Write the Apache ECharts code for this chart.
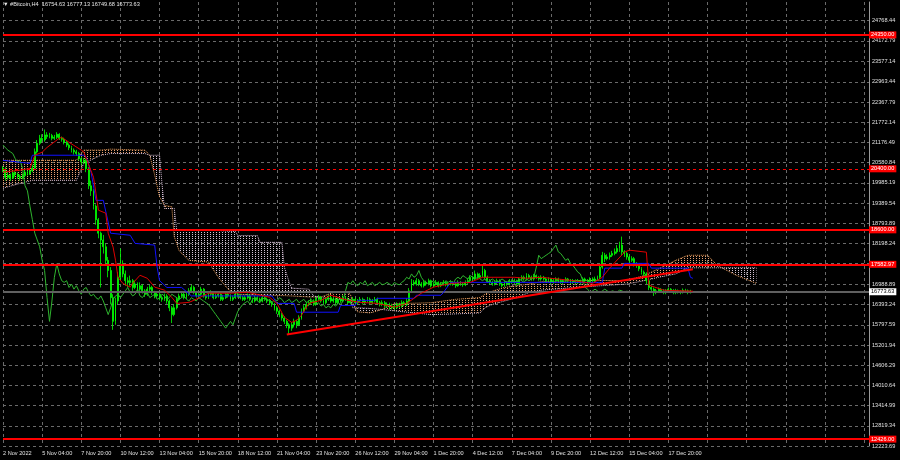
<!DOCTYPE html>
<html><head><meta charset="utf-8">
<script src="https://cdn.jsdelivr.net/npm/echarts@6/dist/echarts.min.js"></script>
<style>html,body{margin:0;padding:0;background:#000}#c{width:900px;height:460px}</style>
</head><body><div id="c"></div>
<script>
const symbolTitle = '#Bitcoin,H4';
const lastBar = [16754.63, 16777.13, 16749.68, 16773.63];
const timeLabels = ['2 Nov 2022','5 Nov 04:00','7 Nov 20:00','10 Nov 12:00','13 Nov 04:00','15 Nov 20:00','18 Nov 12:00','21 Nov 04:00','23 Nov 20:00','26 Nov 12:00','29 Nov 04:00','1 Dec 20:00','4 Dec 12:00','7 Dec 04:00','9 Dec 20:00','12 Dec 12:00','15 Dec 04:00','17 Dec 20:00'];
const priceTicks = [24768.44,24172.79,23577.14,22963.44,22367.79,21772.14,21176.49,20580.84,19985.19,19389.54,18793.89,18198.24,17602.59,16988.89,16393.24,15797.59,15201.94,14606.29,14010.64,13414.99,12819.34,12223.69];
const levelsSolid = [24350, 18600, 17582.97, 12426];
const levelsDashed = [20400];
const currentPrice = 16773.63;
// [open, close, low, high] per H4 bar
const candles = [
[20420,20380,20300,20480],[20380,20150,20050,20450],[20150,20210,20080,20300],[20210,20120,20040,20260],[20120,20280,20100,20350],[20280,20230,20170,20330],[20230,20180,20100,20290],[20180,20120,20050,20230],[20120,20200,20090,20260],[20200,20300,20160,20380],
[20300,20250,20200,20350],[20250,20340,20220,20400],[20340,20420,20300,20520],[20420,20900,20400,21000],[20900,21150,20850,21250],[21150,21300,21100,21400],[21300,21250,21180,21420],[21250,21400,21200,21560],[21400,21350,21280,21480],[21350,21380,21300,21460],
[21380,21300,21240,21430],[21300,21330,21250,21400],[21330,21420,21280,21480],[21420,21300,21250,21450],[21300,21270,21200,21350],[21270,21180,21120,21320],[21180,21100,21040,21230],[21100,21020,20950,21150],[21020,20950,20880,21080],[20950,20900,20820,21000],
[20900,20850,20780,20960],[20850,20700,20640,20900],[20700,20600,20520,20760],[20600,20650,20550,20720],[20650,20400,20300,20700],[20400,19900,19800,20450],[19900,19750,19600,20050],[19750,19300,19200,19800],[19300,18900,18750,19350],[18900,18500,18350,18950],
[18500,18300,16900,18550],[18300,18100,17900,18450],[18100,17700,17600,18200],[17700,17400,17200,17800],[17400,16600,16400,17500],[16600,15900,15650,16700],[15900,16500,15800,16600],[16500,17200,16400,17350],[17200,17600,17100,18050],[17600,17300,17200,17700],
[17300,17100,16950,17400],[17100,17050,16900,17200],[17050,17100,16950,17250],[17100,16900,16800,17150],[16900,17000,16850,17100],[17000,16850,16780,17050],[16850,16950,16800,17050],[16950,16800,16720,17000],[16800,16700,16620,16850],[16700,16850,16650,16920],
[16850,16900,16780,16980],[16900,16750,16680,16950],[16750,16650,16580,16800],[16650,16700,16600,16780],[16700,16600,16520,16750],[16600,16550,16480,16650],[16550,16650,16500,16720],[16650,16500,16420,16700],[16500,16300,16200,16550],[16300,16100,15850,16350],
[16100,16300,16050,16400],[16300,16550,16250,16620],[16550,16650,16500,16720],[16650,16700,16600,16780],[16700,16600,16550,16750],[16600,16700,16560,16760],[16700,16800,16650,16880],[16800,16900,16750,16980],[16900,16750,16700,16950],[16750,16650,16600,16800],
[16650,16700,16600,16780],[16700,16850,16650,16920],[16850,16650,16600,16880],[16650,16600,16540,16700],[16600,16700,16560,16760],[16700,16750,16650,16820],[16750,16600,16550,16780],[16600,16650,16560,16720],[16650,16700,16600,16780],[16700,16550,16500,16730],
[16550,16600,16500,16680],[16600,16700,16560,16760],[16700,16650,16600,16740],[16650,16550,16500,16700],[16550,16600,16500,16660],[16600,16700,16560,16760],[16700,16650,16600,16740],[16650,16600,16550,16700],[16600,16550,16500,16650],[16550,16600,16500,16660],
[16600,16650,16550,16720],[16650,16550,16500,16700],[16550,16500,16440,16600],[16500,16600,16460,16660],[16600,16550,16500,16640],[16550,16500,16440,16600],[16500,16600,16460,16650],[16600,16550,16500,16640],[16550,16500,16440,16600],[16500,16450,16380,16560],
[16450,16400,16330,16500],[16400,16300,16220,16450],[16300,16200,16120,16350],[16200,16100,16020,16250],[16100,16000,15920,16150],[16000,15900,15820,16050],[15900,15800,15700,15950],[15800,15700,15520,15850],[15700,15800,15620,15880],[15800,15900,15720,15980],
[15900,15800,15700,15950],[15800,16000,15760,16080],[16000,16200,15950,16280],[16200,16300,16150,16380],[16300,16400,16250,16480],[16400,16450,16350,16520],[16450,16500,16400,16580],[16500,16400,16350,16550],[16400,16550,16360,16620],[16550,16600,16500,16680],
[16600,16500,16450,16650],[16500,16450,16400,16560],[16450,16550,16400,16620],[16550,16600,16500,16680],[16600,16500,16450,16650],[16500,16550,16450,16620],[16550,16450,16400,16600],[16450,16550,16400,16620],[16550,16500,16450,16600],[16500,16600,16460,16670],
[16600,16550,16500,16650],[16550,16450,16400,16600],[16450,16500,16400,16560],[16500,16550,16460,16620],[16550,16450,16400,16600],[16450,16500,16400,16560],[16500,16550,16460,16620],[16550,16450,16400,16600],[16450,16500,16400,16560],[16500,16550,16460,16620],
[16550,16450,16400,16600],[16450,16500,16400,16560],[16500,16550,16460,16620],[16550,16450,16400,16600],[16450,16400,16340,16500],[16400,16450,16350,16520],[16450,16350,16300,16500],[16350,16400,16300,16460],[16400,16300,16240,16450],[16300,16350,16250,16420],
[16350,16300,16240,16400],[16300,16400,16260,16460],[16400,16350,16300,16450],[16350,16450,16300,16520],[16450,16400,16350,16500],[16400,16500,16350,16580],[16500,16800,16450,16880],[16800,17050,16750,17150],[17050,17000,16950,17120],[17000,17100,16950,17180],
[17100,17000,16940,17150],[17000,16950,16900,17060],[16950,17050,16900,17120],[17050,17000,16950,17100],[17000,17100,16960,17160],[17100,16950,16900,17130],[16950,17000,16900,17060],[17000,17050,16960,17120],[17050,16950,16900,17080],[16950,17000,16910,17060],
[17000,17050,16960,17120],[17050,16980,16930,17090],[16980,17000,16920,17060],[17000,17050,16960,17110],[17050,17000,16950,17090],[17000,16950,16890,17060],[16950,17050,16920,17110],[17050,17000,16950,17090],[17000,16980,16920,17060],[16980,17050,16940,17110],
[17050,17100,17000,17170],[17100,17200,17060,17260],[17200,17150,17100,17250],[17150,17300,17120,17400],[17300,17200,17150,17340],[17200,17250,17150,17320],[17250,17400,17200,17550],[17400,17200,17150,17450],[17200,17100,17050,17250],[17100,17050,16980,17150],
[17050,17000,16950,17100],[17000,17050,16960,17110],[17050,17100,17000,17160],[17100,17000,16950,17140],[17000,16950,16900,17050],[16950,17050,16920,17100],[17050,17000,16950,17090],[17000,17100,16960,17150],[17100,17050,17000,17140],[17050,17100,17000,17160],
[17100,17000,16950,17130],[17000,17150,16980,17200],[17150,17200,17100,17260],[17200,17150,17100,17250],[17150,17250,17100,17320],[17250,17200,17150,17300],[17200,17150,17100,17250],[17150,17250,17100,17300],[17250,17200,17150,17280],[17200,17150,17100,17240],
[17150,17200,17100,17260],[17200,17150,17100,17240],[17150,17100,17040,17200],[17100,17150,17050,17200],[17150,17050,17000,17180],[17050,17100,17000,17150],[17100,17150,17060,17200],[17150,17100,17050,17190],[17100,17050,17000,17150],[17050,17100,17000,17150],
[17100,17150,17050,17200],[17150,17100,17050,17180],[17100,17050,17000,17150],[17050,17100,17000,17150],[17100,17050,17000,17140],[17050,17100,17000,17150],[17100,17050,17000,17130],[17050,17150,17020,17200],[17150,17100,17050,17190],[17100,17050,17000,17150],
[17050,17150,17020,17200],[17150,17100,17050,17200],[17100,17150,17060,17220],[17150,17200,17100,17250],[17200,17500,17150,17600],[17500,17850,17450,17950],[17850,17750,17650,17920],[17750,17800,17700,17880],[17800,17850,17720,17930],[17850,17900,17800,17980],
[17900,17950,17850,18050],[17950,18050,17900,18150],[18050,18150,17950,18250],[18150,17950,17850,18400],[17950,17900,17800,18000],[17900,17800,17720,17950],[17800,17700,17620,17850],[17700,17750,17650,17820],[17750,17600,17520,17800],[17600,17550,17480,17650],
[17550,17450,17380,17600],[17450,17350,17280,17500],[17350,17300,17200,17400],[17300,17100,17000,17350],[17100,16900,16820,17150],[16900,16850,16750,16950],[16850,16750,16650,16900],[16750,16800,16700,16860],[16800,16850,16760,16900],[16850,16800,16740,16880],
[16800,16750,16700,16850],[16750,16800,16700,16850],[16800,16850,16760,16900],[16850,16800,16750,16880],[16800,16750,16700,16850],[16750,16800,16700,16860],[16800,16780,16720,16840],[16780,16760,16700,16820],[16760,16820,16720,16870],[16820,16800,16750,16860],
[16800,16760,16700,16840],[16760,16790,16720,16830],[16754.63,16773.63,16749.68,16777.13]
];
// Ichimoku lines: [bar index, price]
const tenkan = [[0,20300],[7,20360],[11,20410],[13,20800],[16,20890],[18,21030],[23,21300],[24,21330],[27,21180],[29,21090],[32,20950],[33,20900],[37,20150],[38,19680],[39,19180],[42,19090],[43,18500],[45,18090],[46,17700],[47,17200],[49,17020],[52,16910],[53,17020],[56,17260],[59,17170],[62,16910],[66,16820],[69,16610],[71,16430],[76,16460],[78,16520],[84,16730],[93,16730],[100,16760],[109,16610],[112,16430],[115,16020],[118,15870],[120,15930],[122,16080],[125,16430],[130,16520],[134,16670],[141,16520],[146,16460],[153,16430],[160,16320],[165,16430],[171,16730],[176,16910],[183,17020],[191,17050],[196,17200],[209,17200],[214,17170],[220,17200],[232,17110],[241,17020],[245,17200],[248,17470],[254,17940],[256,18000],[263,17940],[264,16970],[270,16820],[282,16790]];
const kijun = [[0,20650],[11,20560],[12,20800],[33,20800],[34,20750],[36,20300],[38,19470],[41,19470],[44,18500],[52,18440],[54,18200],[62,18150],[63,17500],[64,17100],[67,16900],[73,16900],[77,16650],[110,16650],[112,16430],[119,16430],[120,16170],[137,16170],[138,16370],[144,16370],[145,16520],[152,16520],[153,16580],[168,16580],[169,16670],[179,16670],[180,16750],[183,17050],[245,17050],[246,17470],[253,17470],[254,17610],[264,17610],[265,17470],[280,17470],[281,17200],[282,17170]];
const cloudBars = [0,6,12,30,33,40,44,58,60,62,64,65,66,69,70,71,72,76,84,88,92,95,96,104,105,114,115,117,118,125,127,130,135,140,142,143,145,150,155,160,175,185,195,197,200,205,210,215,220,225,240,255,262,268,275,280,288,292,300,308];
const spanA = [20650,20650,20650,20650,20950,20950,20980,20950,20800,20220,19570,19450,19320,19280,18400,18200,17980,17700,17650,17200,16850,16720,16700,16680,16680,16660,16660,16650,16650,16620,16620,16620,16750,16780,16700,16450,16180,16150,16250,16420,16450,16550,16600,16700,16790,16900,16950,17000,17070,17080,17110,17100,17250,17450,17700,17850,17850,17550,17250,17020];
const spanB = [19830,19950,20060,20060,20560,20800,20850,20850,20800,20800,20800,19950,19230,19230,19230,18600,18600,18600,18600,18580,18560,18550,18430,18430,18230,18230,17500,17050,16880,16850,16650,16600,16550,16550,16550,16300,16300,16280,16250,16210,16100,16120,16150,16300,16400,16500,16600,16750,16820,16850,16930,17000,17100,17200,17300,17480,17480,17480,17480,17480];
const trendline = [[116,15510],[282,17440]];
const chikouShift = 26;
const totalSlots = 355;

const FONT = 'Liberation Sans';
const FS = 5.6;
function hatch(color){
  const c = document.createElement('canvas'); c.width = 3; c.height = 2;
  const g = c.getContext('2d'); g.fillStyle = color; g.fillRect(0,0,1,1);
  return {image: c, repeat: 'repeat'};
}
const patA = hatch('#e8a070'), patB = hatch('#d0c0d0');

const cats = Array.from({length: totalSlots}, (_, i) => String(i));
const chikou = [];
candles.forEach((c, i) => { if (i >= chikouShift) chikou.push([i - chikouShift, c[1]]); });
const segs = cloudBars.slice(0, -1).map((_, k) => [k]);
const lineA = cloudBars.map((b, k) => [b, spanA[k]]);
const lineB = cloudBars.map((b, k) => [b, spanB[k]]);

const chart = echarts.init(document.getElementById('c'), null, {renderer: 'canvas'});
chart.setOption({
  animation: false,
  backgroundColor: '#000000',
  title: {
    text: '\u25BC ' + symbolTitle + '  ' + lastBar.map(v => v.toFixed(2)).join(' '),
    left: 3, top: 1, padding: 0,
    textStyle: {color: '#e6e6e6', fontSize: FS, fontWeight: 'normal', fontFamily: FONT}
  },
  grid: {left: 2, top: 2, width: 867, height: 444, containLabel: false},
  xAxis: {
    type: 'category', data: cats, boundaryGap: false,
    axisLine: {show: false}, axisTick: {show: false},
    axisLabel: {
      interval: 15, color: '#e0e0e0', fontSize: FS, fontFamily: FONT, margin: 4, align: 'left',
      formatter: (v, idx) => (idx % 16 === 0 && timeLabels[idx / 16]) ? timeLabels[idx / 16] : ''
    },
    splitLine: {show: true, interval: 15, lineStyle: {color: '#6a6a6a', type: [3, 3], width: 1}}
  },
  yAxis: {
    type: 'value', position: 'right', min: 12223.69, max: 25320, scale: true,
    axisLine: {show: true, lineStyle: {color: '#9a9a9a', width: 1}},
    axisTick: {show: false, customValues: priceTicks},
    axisLabel: {customValues: priceTicks, color: '#e0e0e0', fontSize: FS, fontFamily: FONT, margin: 3,
      formatter: v => v.toFixed(2)},
    splitLine: {show: true, lineStyle: {color: '#6a6a6a', type: [3, 3], width: 1}}
  },
  series: [
    {
      type: 'custom', name: 'cloud', z: 1, clip: true,
      renderItem: (params, api) => {
        const k = api.value(0);
        const a0 = api.coord([cloudBars[k], spanA[k]]), a1 = api.coord([cloudBars[k+1], spanA[k+1]]);
        const b0 = api.coord([cloudBars[k], spanB[k]]), b1 = api.coord([cloudBars[k+1], spanB[k+1]]);
        const up = (spanA[k] + spanA[k+1]) >= (spanB[k] + spanB[k+1]);
        return {type: 'polygon', shape: {points: [a0, a1, b1, b0]}, style: {fill: up ? patA : patB}};
      },
      data: segs
    },
    {type: 'line', name: 'spanA', data: lineA, showSymbol: false, z: 2,
      lineStyle: {color: '#f4a460', width: 1, type: [1, 1]}},
    {type: 'line', name: 'spanB', data: lineB, showSymbol: false, z: 2,
      lineStyle: {color: '#d8bfd8', width: 1, type: [1, 1]}},
    {
      type: 'candlestick', name: 'price', z: 3, barWidth: 1.4,
      itemStyle: {color: '#00ff00', color0: '#00ff00', borderColor: '#00ff00', borderColor0: '#00ff00', borderWidth: 0.8},
      data: candles,
      markLine: {
        silent: true, symbol: ['none', 'none'], animation: false, precision: 2,
        data: [
          ...levelsSolid.map(v => ({yAxis: v, lineStyle: {color: '#ff0000', width: 2, type: 'solid'},
            label: {show: true, position: 'end', distance: 0, formatter: () => v.toFixed(2), color: '#ffffff', backgroundColor: '#ff0000', padding: [1, 2, 0, 2], fontSize: FS, fontFamily: FONT}})),
          ...levelsDashed.map(v => ({yAxis: v, lineStyle: {color: '#ff0000', width: 1, type: [3, 3]},
            label: {show: true, position: 'end', distance: 0, formatter: () => v.toFixed(2), color: '#ffffff', backgroundColor: '#ff0000', padding: [1, 2, 0, 2], fontSize: FS, fontFamily: FONT}})),
          {yAxis: currentPrice, lineStyle: {color: '#606060', width: 2, type: 'solid'},
            label: {show: true, position: 'end', distance: 0, formatter: () => currentPrice.toFixed(2), color: '#000000', backgroundColor: '#ffffff', padding: [1, 2, 0, 2], fontSize: FS, fontFamily: FONT}}
        ]
      }
    },
    {type: 'line', name: 'chikou', data: chikou, showSymbol: false, z: 4, lineStyle: {color: '#2fb52f', width: 1}},
    {type: 'line', name: 'kijun', data: kijun, showSymbol: false, z: 5, lineStyle: {color: '#1010ff', width: 1}},
    {type: 'line', name: 'tenkan', data: tenkan, showSymbol: false, z: 5, lineStyle: {color: '#e00000', width: 1}},
    {type: 'line', name: 'trend', data: trendline, showSymbol: false, z: 6, lineStyle: {color: '#ff0000', width: 2}}
  ]
});
</script></body></html>
